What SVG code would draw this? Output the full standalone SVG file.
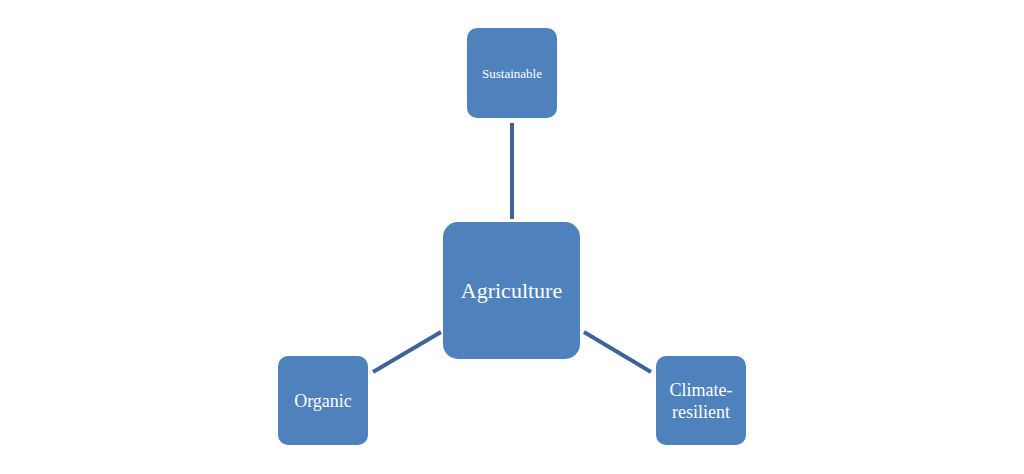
<svg xmlns="http://www.w3.org/2000/svg" width="1024" height="474" viewBox="0 0 1024 474">
<style>
.n{fill:#4F81BD;}
.t{fill:#fff;font-family:"Liberation Serif","DejaVu Serif",serif;text-anchor:middle;}
.c{stroke:#3E6497;stroke-width:4;fill:none;}
</style>
<rect width="1024" height="474" fill="#fff"/>
<g id="connectors">
<line class="c" x1="512" y1="123" x2="512" y2="219"/>
<line class="c" x1="373" y1="372" x2="441" y2="332"/>
<line class="c" x1="584" y1="332" x2="651" y2="372"/>
</g>
<g id="sustainable"><rect class="n" x="467" y="28" width="90" height="90" rx="10"/><text class="t" x="512" y="78" font-size="13">Sustainable</text></g>
<g id="agriculture"><rect class="n" x="443" y="222" width="137" height="137" rx="15"/><text class="t" x="511.5" y="298" font-size="22">Agriculture</text></g>
<g id="organic"><rect class="n" x="278" y="356" width="90" height="89" rx="10"/><text class="t" x="323" y="407" font-size="18">Organic</text></g>
<g id="climate"><rect class="n" x="656" y="356" width="90" height="89" rx="10"/><text class="t" x="701" y="396" font-size="18">Climate-</text><text class="t" x="701" y="418" font-size="18">resilient</text></g>
</svg>
